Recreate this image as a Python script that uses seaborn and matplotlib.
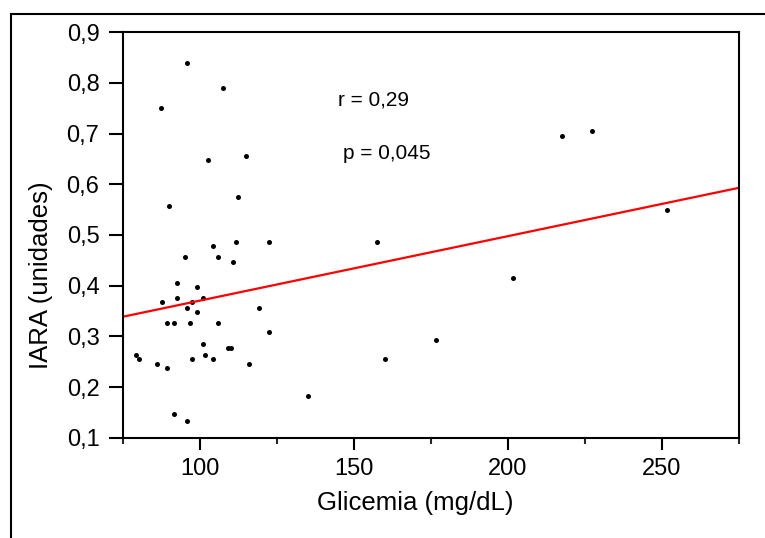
import matplotlib
matplotlib.use("Agg")
import matplotlib.pyplot as plt
import matplotlib.patches as mpatches
import numpy as np
import pandas as pd
import seaborn as sns

# glicemia (mg/dL) and IARA values
glicemia = [95.9, 107.5, 87.4, 102.5, 114.9, 112.4, 90.0, 104.2, 111.6, 122.5,
            95.0, 105.8, 110.8, 92.5, 99.1, 87.6, 92.5, 97.5, 100.9, 95.9,
            99.1, 119.3, 89.2, 91.7, 96.6, 105.8, 122.5, 100.9, 109.2, 110.1,
            79.1, 80.1, 101.7, 97.5, 104.2, 85.9, 89.2, 115.9, 91.7, 95.9,
            217.4, 227.4, 157.5, 251.5, 201.6, 176.6, 160.0, 135.0]
iara = [0.838, 0.790, 0.750, 0.647, 0.656, 0.575, 0.558, 0.478, 0.487, 0.487,
        0.456, 0.456, 0.446, 0.406, 0.398, 0.367, 0.375, 0.367, 0.375, 0.357,
        0.349, 0.357, 0.327, 0.327, 0.327, 0.327, 0.308, 0.286, 0.277, 0.277,
        0.264, 0.255, 0.264, 0.255, 0.255, 0.246, 0.237, 0.246, 0.148, 0.134,
        0.696, 0.705, 0.486, 0.549, 0.415, 0.294, 0.255, 0.183]

# regression line as drawn in the reference (ends)
fit_x = [75, 275]
fit_y = [0.339, 0.593]

y_ticks = [0.1, 0.2, 0.3, 0.4, 0.5, 0.6, 0.7, 0.8, 0.9]
x_major = [100, 150, 200, 250]
x_minor = [75, 125, 175, 225, 275]

df = pd.DataFrame({"glicemia": glicemia, "iara": iara})

sns.set_theme(style="white")
plt.rcParams["font.family"] = ["Liberation Sans", "DejaVu Sans"]
plt.rcParams["text.color"] = "black"
plt.rcParams["axes.labelcolor"] = "black"

fig = plt.figure(figsize=(7.65, 5.38), dpi=100)
ax = fig.add_axes([0.1608, 0.1859, 0.8052, 0.7546])

sns.scatterplot(data=df, x="glicemia", y="iara", ax=ax, s=13, color="black",
                marker="o", linewidth=0)
sns.lineplot(x=fit_x, y=fit_y, ax=ax, color="red", lw=1.6)

ax.set_xlim(75, 275)
ax.set_ylim(0.1, 0.9)
ax.set_xticks(x_major)
ax.set_xticks(x_minor, minor=True)
ax.set_yticks(y_ticks)
ax.set_yticklabels([f"{v:.1f}".replace(".", ",") for v in y_ticks])
ax.set_xticklabels([str(v) for v in x_major])

ax.tick_params(axis="y", which="major", direction="out", length=10, width=1.5,
               pad=7, labelsize=17, colors="black", left=True)
ax.tick_params(axis="x", which="major", direction="out", length=8.5, width=1.5,
               pad=6, labelsize=17, colors="black", bottom=True)
ax.tick_params(axis="x", which="minor", direction="out", length=4, width=1.5,
               bottom=True)

for s in ax.spines.values():
    s.set_color("black")
    s.set_linewidth(1.5)

ax.set_xlabel("Glicemia (mg/dL)", fontsize=18.5, labelpad=8)
ax.set_ylabel("IARA (unidades)", fontsize=18.5, labelpad=10)
ax.xaxis.label.set_x(0.474)
ax.yaxis.label.set_y(0.40)

ax.text(144.8, 0.766, "r = 0,29", fontsize=15, ha="left", va="center")
ax.text(146.4, 0.660, "p = 0,045", fontsize=15, ha="left", va="center")

# outer frame running off the right and bottom edges
fig.add_artist(mpatches.Rectangle((11 / 765, -0.2), 1.3, 1.2 - 14 / 538,
                                  transform=fig.transFigure, fill=False,
                                  lw=1.5, edgecolor="black"))

fig.savefig("out.png", dpi=100)
